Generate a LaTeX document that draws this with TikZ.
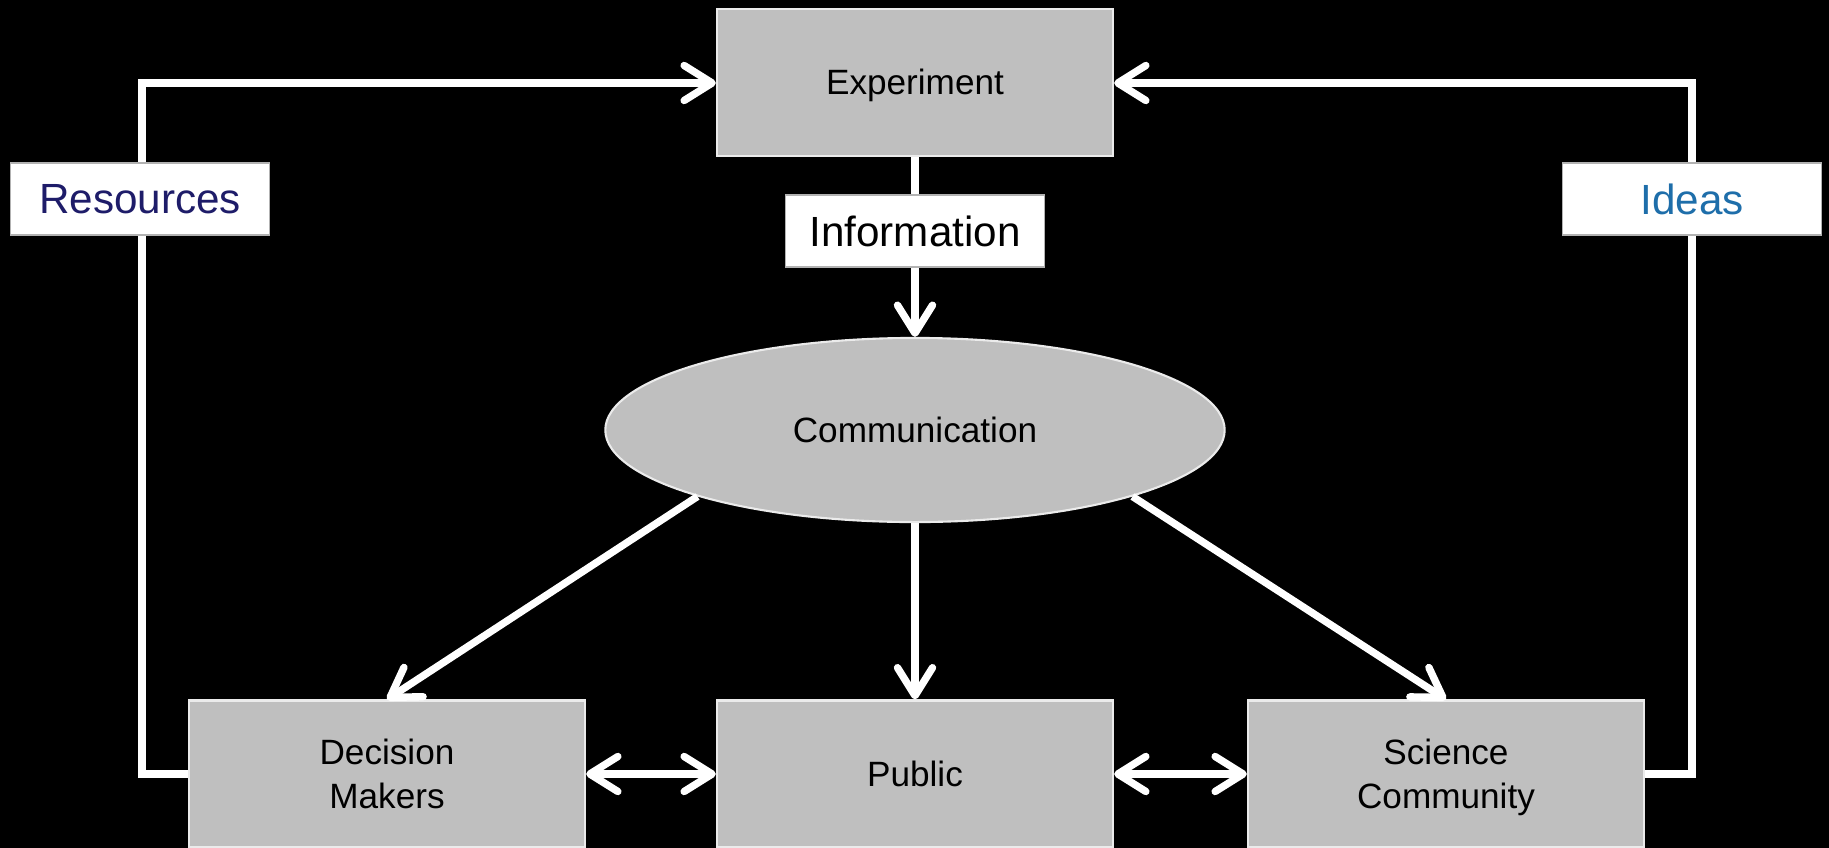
\documentclass[tikz,border=0pt]{standalone}
\usepackage{fontspec}
\setmainfont{Liberation Sans}
\usetikzlibrary{arrows.meta,shapes.geometric}
\definecolor{boxgray}{RGB}{191,191,191}
\definecolor{edgegray}{RGB}{235,235,235}
\definecolor{resblue}{RGB}{30,28,105}
\definecolor{ideablue}{RGB}{30,110,170}
\newcommand\mystrut{\rule[-1.8pt]{0pt}{10.8pt}}
\begin{document}
\begin{tikzpicture}[x=0.01cm,y=-0.01cm,
  box/.style={rectangle,fill=boxgray,draw=edgegray,line width=0.6pt,minimum width=3.96cm,minimum height=1.47cm,inner sep=0pt,align=center,font=\fontsize{10}{12.5}\selectfont},
  oval/.style={ellipse,fill=boxgray,draw=edgegray,line width=0.6pt,minimum width=6.19cm,minimum height=1.84cm,inner sep=0pt,font=\fontsize{10}{12.5}\selectfont},
  lab/.style={rectangle,fill=white,draw=gray!60,line width=0.4pt,minimum width=2.59cm,minimum height=0.72cm,inner sep=0pt,font=\fontsize{12}{14}\selectfont},
  conn/.style={draw=white,line width=2.1pt,line join=miter},
  arr/.style={conn,-{Straight Barb[length=0.28cm,width=0.35cm,round]}},
  arrtwo/.style={conn,{Straight Barb[length=0.28cm,width=0.35cm,round]}-{Straight Barb[length=0.28cm,width=0.35cm,round]}}]
\fill[black] (0,0) rectangle (1829,848);
\useasboundingbox (0,0) rectangle (1829,848);
% main nodes
\node[box] (exp) at (915,82.5) {\mystrut Experiment};
\node[oval] (comm) at (915,430) {\mystrut Communication};
\node[box] (dm) at (387,774) {\mystrut Decision\\\mystrut Makers};
\node[box] (pub) at (915,774) {\mystrut Public};
\node[box] (sc) at (1446,774) {\mystrut Science\\\mystrut Community};
% loop corners
\coordinate (lc1) at (142,774);
\coordinate (lc2) at (142,83);
\coordinate (rc1) at (1692,774);
\coordinate (rc2) at (1692,83);
% connectors
\draw[arr] (exp.south) -- (comm.north);
\draw[arr] (comm.197) -- (dm.north);
\draw[arr] (comm.south) -- (pub.north);
\draw[arr] (comm.-17) -- (sc.north);
\draw[arrtwo] (dm.east) -- (pub.west);
\draw[arrtwo] (pub.east) -- (sc.west);
\draw[arr] (dm.west) -- (lc1) -- (lc2) -- (exp.west |- lc2);
\draw[arr] (sc.east) -- (rc1) -- (rc2) -- (exp.east |- rc2);
% labels
\node[lab] (info) at (915,231) {Information};
\node[lab,text=resblue] (res) at (140,199) {Resources};
\node[lab,text=ideablue] (ideas) at (1692,199) {Ideas};
\end{tikzpicture}
\end{document}
